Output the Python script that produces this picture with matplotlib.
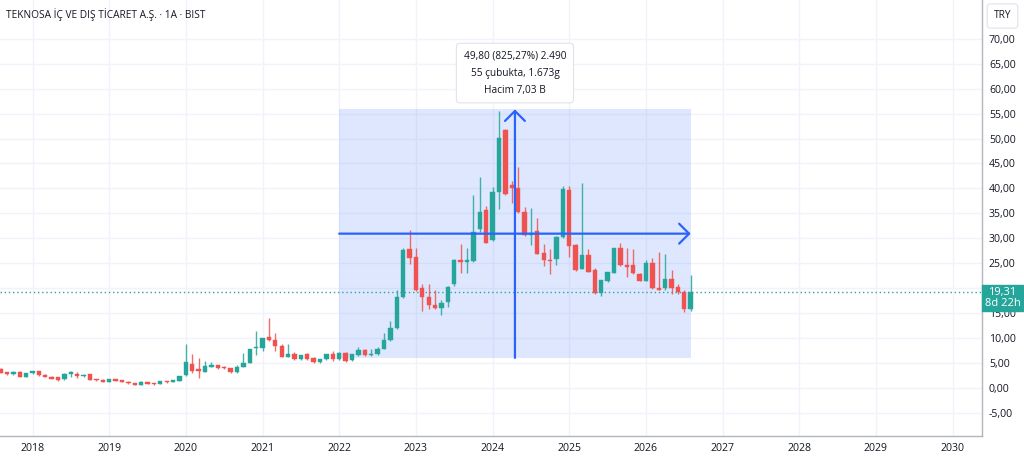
import numpy as np
import matplotlib
matplotlib.use("Agg")
import matplotlib.pyplot as plt
from matplotlib.patches import Rectangle, FancyArrowPatch
from matplotlib.ticker import FuncFormatter, FixedLocator

plt.rcParams['font.family'] = ['Open Sans', 'DejaVu Sans']

# ---------------- data (monthly candles, 2017-08 .. 2026-08) ----------------
first_month_offset = -5  # months relative to 2018-01

open_ = [3.9, 3.2, 2.8, 3.3, 2.3, 3.0, 3.4, 2.7, 2.3, 2.2,
         1.8, 2.9, 2.9, 2.4, 2.8, 1.8, 1.7, 1.3, 1.8, 1.6,
         1.3, 1.1, 0.7, 1.2, 1.0, 0.9, 1.45, 1.25, 1.5, 2.6,
         4.8, 3.9, 3.3, 4.3, 4.6, 4.2, 4.0, 3.2, 4.3, 5.1,
         8.0, 8.0, 10.2, 9.7, 8.5, 6.3, 6.9, 5.8, 6.8, 6.1,
         5.2, 5.8, 6.8, 5.8, 7.1, 5.6, 6.6, 7.7, 6.6, 6.8,
         7.9, 9.6, 12.0, 18.3, 27.9, 26.2, 20.0, 18.3, 16.7, 16.0,
         17.2, 20.8, 25.7, 25.3, 25.5, 31.8, 35.6, 29.6, 39.2, 51.8,
         40.7, 40.0, 35.3, 30.6, 31.5, 27.0, 25.7, 25.8, 30.2, 39.6,
         28.6, 23.9, 26.6, 23.6, 19.1, 21.5, 23.1, 28.1, 24.7, 24.7,
         22.9, 21.5, 25.1, 20.1, 20.0, 21.9, 20.3, 19.3, 15.8]
high = [4.1, 3.3, 3.5, 3.4, 3.1, 3.5, 3.5, 2.8, 2.4, 2.3,
        3.0, 3.4, 3.2, 2.8, 2.9, 1.9, 1.8, 1.9, 1.9, 1.7,
        1.4, 1.1, 1.4, 1.3, 1.05, 1.5, 1.5, 1.6, 2.5, 8.8,
        6.8, 6.0, 5.4, 5.2, 4.7, 4.5, 4.1, 4.7, 7.0, 7.8,
        11.4, 10.1, 14.0, 11.1, 8.9, 8.8, 7.2, 6.7, 7.0, 6.3,
        5.9, 6.9, 7.5, 7.2, 7.2, 6.9, 8.2, 7.8, 7.8, 8.2,
        11.1, 13.4, 19.6, 28.1, 31.6, 28.1, 20.9, 20.9, 19.6, 17.7,
        20.4, 25.8, 28.9, 28.1, 38.7, 42.3, 36.5, 40.2, 55.6, 51.9,
        41.4, 44.2, 36.2, 36.0, 34.0, 28.8, 27.8, 30.4, 40.4, 40.5,
        28.8, 41.0, 27.9, 24.0, 21.6, 23.3, 28.1, 29.0, 28.1, 27.9,
        23.0, 25.6, 26.1, 27.3, 26.8, 23.7, 20.8, 19.6, 22.6]
low = [3.0, 2.7, 2.7, 2.2, 2.2, 2.9, 2.5, 2.2, 1.8, 1.5,
       1.7, 2.3, 2.1, 2.3, 1.6, 1.5, 1.2, 1.2, 1.4, 1.2,
       0.9, 0.6, 0.6, 0.8, 0.7, 0.8, 1.1, 1.2, 1.4, 2.4,
       3.1, 2.1, 3.2, 4.2, 3.9, 3.9, 3.0, 3.1, 4.2, 5.0,
       6.6, 7.5, 9.4, 7.4, 6.2, 6.2, 5.7, 5.7, 5.7, 5.1,
       5.1, 5.7, 5.4, 5.7, 5.3, 5.5, 6.5, 6.5, 6.5, 6.7,
       7.8, 9.5, 11.9, 18.0, 24.8, 19.5, 15.4, 15.8, 15.8, 14.6,
       16.2, 20.5, 23.1, 23.1, 25.3, 31.2, 29.0, 29.4, 35.8, 38.7,
       37.0, 35.0, 30.5, 28.7, 26.8, 24.5, 22.9, 24.6, 30.0, 26.3,
       23.4, 23.8, 23.2, 18.9, 18.5, 21.2, 23.0, 24.5, 22.2, 22.9,
       21.4, 21.4, 19.8, 19.6, 19.6, 18.8, 18.8, 15.3, 15.5]
close = [3.1, 2.75, 3.2, 2.3, 3.0, 3.4, 2.6, 2.3, 1.9, 1.7,
         2.9, 3.0, 2.4, 2.7, 1.7, 1.6, 1.3, 1.8, 1.5, 1.3,
         0.95, 0.7, 1.2, 0.9, 0.8, 1.4, 1.2, 1.55, 2.4, 5.2,
         3.4, 3.4, 4.4, 4.5, 4.0, 4.0, 3.2, 4.3, 5.1, 7.75,
         8.3, 10.0, 9.6, 8.4, 6.3, 6.75, 5.75, 6.6, 5.8, 5.2,
         5.8, 6.8, 5.8, 7.1, 5.4, 6.8, 7.6, 6.6, 6.9, 7.9,
         9.6, 12.1, 18.25, 27.6, 26.1, 19.7, 18.3, 16.6, 16.0, 17.1,
         20.3, 25.6, 25.3, 25.7, 31.35, 35.2, 29.1, 39.2, 50.2, 38.8,
         40.0, 35.2, 30.6, 31.0, 26.9, 25.6, 25.4, 30.35, 39.85, 28.5,
         23.6, 26.7, 23.3, 19.0, 21.6, 23.3, 28.1, 24.7, 24.3, 23.0,
         21.5, 25.1, 20.1, 19.65, 21.9, 20.1, 19.3, 15.8, 19.31]

years = list(range(2018, 2031))
year_labels = [str(y) for y in years]
y_ticks = [-5, 0, 5, 10, 15, 20, 25, 30, 35, 40, 45, 50, 55, 60, 65, 70]
hidden_tick = 20  # covered by the last-price label in the reference

# date/price range measurement
range_start_bar = 48      # 2022-01
range_end_bar = 103       # 2026-08
range_low = 6.03
range_high = 55.83
range_lines = ["49,80 (825,27%) 2.490", "55 çubukta, 1.673g", "Hacim 7,03 B"]

title = "TEKNOSA İÇ VE DIŞ TİCARET A.Ş. · 1A · BIST"
countdown = "8d 22h"

# ---------------- styling ----------------
UP = '#26a69a'
DOWN = '#ef5350'
GRID = '#f0f3fa'
TXT = '#131722'
BLUE = '#2962ff'

W, H = 1024, 457
fig = plt.figure(figsize=(W / 100, H / 100), dpi=100)
fig.patch.set_facecolor('white')
ax_right_px = 982
ax_bottom_px = 436
ax = fig.add_axes([0, 1 - ax_bottom_px / H, ax_right_px / W, ax_bottom_px / H])

o = np.array(open_)
h = np.array(high)
l = np.array(low)
c = np.array(close)
x = np.arange(len(c)) + first_month_offset
up = c >= o
colors = np.where(up, UP, DOWN)

# wicks
ax.vlines(x, l, h, colors=colors, linewidth=1.0, zorder=3, alpha=0.85)
# bodies
body_low = np.minimum(o, c)
body_h = np.maximum(np.abs(c - o), 0.22)
ax.bar(x, body_h, bottom=body_low, width=0.68, color=colors, edgecolor=colors,
       linewidth=0.3, zorder=4)

# range rectangle
x0 = range_start_bar
x1 = range_end_bar
xm = (x0 + x1) / 2
ym = (range_low + range_high) / 2
ax.add_patch(Rectangle((x0, range_low), x1 - x0, range_high - range_low,
                       facecolor=BLUE, alpha=0.15, edgecolor='none', zorder=1))
ax.add_patch(FancyArrowPatch((xm, range_low), (xm, range_high),
                             arrowstyle='->,head_length=0.55,head_width=0.55',
                             mutation_scale=13, color=BLUE, lw=1.6, zorder=5,
                             shrinkA=0, shrinkB=0))
ax.add_patch(FancyArrowPatch((x0, ym), (x1, ym),
                             arrowstyle='->,head_length=0.55,head_width=0.55',
                             mutation_scale=13, color=BLUE, lw=1.6, zorder=5,
                             shrinkA=0, shrinkB=0))
ax.annotate("\n".join(range_lines), xy=(xm, range_high), xytext=(0, 10),
            textcoords='offset points', ha='center', va='bottom',
            fontsize=7.3, color=TXT, linespacing=1.75, zorder=7,
            bbox=dict(boxstyle='round,pad=0.72,rounding_size=0.35', fc='white',
                      ec='#e0e3eb', lw=0.8))

# last price dotted line
ax.axhline(c[-1], color=UP, linestyle=(0, (1, 2)), linewidth=1.0, zorder=2)

# axes limits: month index, 6.39 px / month; 2018 at 32.5 px
px_per_month = 6.39
x_origin_px = 32.5
ax.set_xlim(-x_origin_px / px_per_month, (ax_right_px - x_origin_px) / px_per_month)
px_per_unit = 4.99
zero_px = 388
ax.set_ylim((zero_px - ax_bottom_px) / px_per_unit, zero_px / px_per_unit)

# grid & ticks
ax.xaxis.set_major_locator(FixedLocator([12 * (yy - 2018) for yy in years]))
ax.set_xticklabels(year_labels)
ax.yaxis.set_major_locator(FixedLocator(y_ticks))
ax.yaxis.set_major_formatter(FuncFormatter(
    lambda v, p: "" if abs(v - hidden_tick) < 1e-9 else f"{v:.2f}".replace('.', ',')))
ax.yaxis.tick_right()
ax.grid(True, color=GRID, linewidth=1.0, zorder=0)
ax.set_axisbelow(True)
ax.tick_params(axis='both', length=0, labelsize=7.6, colors=TXT)
ax.tick_params(axis='y', pad=5)
ax.tick_params(axis='x', pad=5)
for s in ['left', 'top']:
    ax.spines[s].set_visible(False)
for s in ['right', 'bottom']:
    ax.spines[s].set_color('#b2b5be')
    ax.spines[s].set_linewidth(1.0)

# title
fig.text(6 / W, 1 - 15 / H, title, fontsize=7.3, color=TXT, ha='left', va='center')

# TRY box
fig.text(1002.5 / W, 1 - 16 / H, "TRY", fontsize=7.3, color=TXT, ha='center', va='center',
         bbox=dict(boxstyle='round,pad=0.65,rounding_size=0.3', fc='white',
                   ec='#e0e3eb', lw=0.8))

# price label
fig.text(1002.5 / W, 1 - 298 / H, f"{c[-1]:.2f}".replace('.', ',') + "\n" + countdown,
         fontsize=8, color='white', ha='center', va='center', linespacing=1.05,
         bbox=dict(boxstyle='square,pad=0.2', fc=UP, ec=UP), zorder=10)

fig.savefig('out.png', dpi=100, facecolor='white')
